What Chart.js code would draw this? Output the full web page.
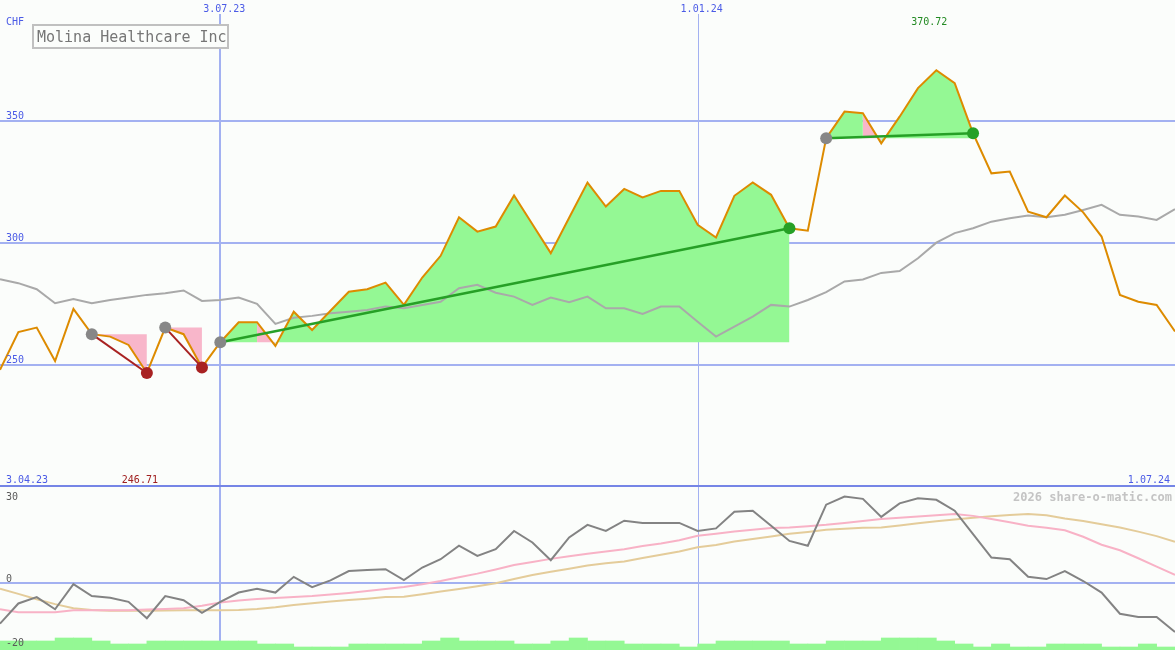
<!DOCTYPE html>
<html>
<head>
<meta charset="utf-8">
<script src="https://cdn.jsdelivr.net/npm/chart.js@4.4.0/dist/chart.umd.min.js"></script>
<style>
  html, body { margin: 0; padding: 0; background: #fbfdfb; }
  #wrap { position: relative; width: 1175px; height: 650px; }
  #priceChart { position: absolute; left: 0; top: 0; }
  #oscChart { position: absolute; left: 0; top: 487px; }
</style>
</head>
<body>
<div id="wrap">
  <canvas id="priceChart" width="1175" height="487"></canvas>
  <canvas id="oscChart" width="1175" height="163"></canvas>
</div>
<script>
/* ======================================================
    DATA (weekly, x = week index 0..64)
====================================================== */
const title = 'Molina Healthcare Inc';
const currency = 'CHF';

const price = [248.0, 263.5, 265.3, 251.6, 273.0, 262.6, 261.6, 258.2, 246.71, 265.3,
    262.6, 249.0, 259.3, 267.5, 267.5, 257.8, 271.8, 264.3, 272.2, 280.0,
    281.0, 283.7, 274.6, 285.8, 294.7, 310.5, 304.6, 306.7, 319.4, 307.6,
    295.8, 310.3, 324.7, 314.9, 322.1, 318.6, 321.3, 321.3, 307.4, 302.2,
    319.3, 324.8, 319.7, 306.0, 305.0, 342.9, 353.8, 353.1, 340.8, 351.7,
    363.4, 370.72, 365.4, 344.9, 328.5, 329.2, 312.8, 310.5, 319.4, 312.5,
    302.6, 278.7, 275.9, 274.6, 263.7];

const avgLine = [285.1, 283.5, 281.0, 275.3, 277.0, 275.3, 276.6, 277.6, 278.7, 279.4,
    280.5, 276.2, 276.6, 277.6, 275.0, 266.8, 269.3, 270.1, 271.2, 271.8,
    272.5, 273.9, 273.2, 274.6, 275.9, 281.4, 282.8, 279.6, 278.0, 274.6,
    277.6, 275.7, 278.0, 273.2, 273.2, 270.9, 273.9, 273.9, 267.7, 261.6,
    265.7, 269.8, 274.6, 273.9, 276.6, 279.8, 284.2, 285.0, 287.7, 288.5,
    293.7, 300.1, 304.0, 306.0, 308.7, 310.1, 311.2, 310.5, 311.5, 313.5,
    315.6, 311.5, 310.8, 309.4, 313.8];

const osc = [-12.6, -6.3, -4.3, -8.1, -0.3, -4.0, -4.5, -5.8, -10.9, -4.0,
    -5.3, -9.2, -5.8, -2.9, -1.7, -2.9, 2.0, -1.2, 0.9, 3.8,
    4.1, 4.4, 1.0, 4.9, 7.5, 11.7, 8.5, 10.6, 16.3, 12.7,
    7.2, 14.3, 18.2, 16.3, 19.5, 18.8, 18.8, 18.8, 16.3, 17.1,
    22.3, 22.6, 17.9, 13.2, 11.7, 24.5, 27.0, 26.3, 20.7, 24.9,
    26.5, 26.0, 22.6, 15.3, 8.0, 7.5, 2.0, 1.3, 3.8, 0.7,
    -2.9, -9.5, -10.5, -10.5, -15.2];

const oscFast = [-8.1, -9.0, -9.0, -9.0, -8.4, -8.4, -8.4, -8.4, -8.2, -8.0,
    -7.8, -7.0, -6.0, -5.4, -4.9, -4.6, -4.3, -4.0, -3.5, -3.0,
    -2.4, -1.8, -1.2, -0.3, 0.7, 1.9, 3.0, 4.3, 5.7, 6.6,
    7.6, 8.4, 9.2, 9.9, 10.6, 11.6, 12.4, 13.4, 14.8, 15.4,
    16.1, 16.7, 17.2, 17.4, 17.8, 18.2, 18.8, 19.4, 20.0, 20.4,
    20.8, 21.2, 21.6, 21.0, 20.0, 19.0, 17.9, 17.3, 16.5, 14.5,
    12.0, 10.3, 7.8, 5.2, 2.6];

const oscSlow = [-1.7, -3.3, -5.0, -6.5, -7.8, -8.3, -8.6, -8.6, -8.6, -8.5,
    -8.4, -8.4, -8.4, -8.3, -8.0, -7.5, -6.8, -6.2, -5.7, -5.2,
    -4.8, -4.3, -4.2, -3.4, -2.6, -1.8, -0.9, 0.0, 1.3, 2.6,
    3.6, 4.5, 5.5, 6.2, 6.8, 7.9, 8.9, 9.9, 11.2, 11.9,
    13.0, 13.8, 14.6, 15.4, 16.0, 16.7, 17.0, 17.3, 17.4, 18.0,
    18.7, 19.3, 19.9, 20.4, 20.9, 21.3, 21.6, 21.2, 20.2, 19.4,
    18.4, 17.4, 16.1, 14.7, 12.9];

// one bar per week, drawn between week k and k+1
const volume = [3, 3, 3, 4, 4, 3, 2, 2, 3, 3,
    3, 3, 3, 3, 2, 2, 1, 1, 1, 2,
    2, 2, 2, 3, 4, 3, 3, 3, 2, 2,
    3, 4, 3, 3, 2, 2, 2, 1, 2, 3,
    3, 3, 3, 2, 2, 3, 3, 3, 4, 4,
    4, 3, 2, 1, 2, 1, 1, 2, 2, 2,
    1, 1, 2, 1];

const priceTicks = [250, 300, 350];
const oscTicks = [30, 0, -20];
const dateIdx = [12, 38];
const dateLabels = ['3.07.23', '1.01.24'];
const startLabel = '3.04.23';
const endLabel = '1.07.24';

// buy / sell signals (week index)
const tradeOpen = [5, 9, 12, 45];
const tradeClose = [8, 11, 43, 53];

/* ======================================================
    COLOURS
====================================================== */
const BG = '#fbfdfb';
const GRID = '#a3b1f1';
const SEP = '#7585e6';
const LABEL_BLUE = '#4b5be6';
const ORANGE = '#dd8b00';
const AVG_GREY = '#a9a9a9';
const GAIN = '#94f894';
const LOSS = '#f8b6ca';
const WIN_LINE = '#26a026';
const LOSE_LINE = '#a82222';
const MARK_GREY = '#878787';
const MONO = 'DejaVu Sans Mono';

const pts = (arr, from = 0, to = arr.length - 1) =>
    arr.slice(from, to + 1).map((v, k) => ({ x: from + k, y: v }));

/* ======================================================
    PRICE PANEL
====================================================== */
const tradeSets = [];
const fillSets = [];
tradeOpen.forEach((s, t) => {
    const e = tradeClose[t];
    const entry = price[s];
    const win = price[e] > entry;
    const col = win ? WIN_LINE : LOSE_LINE;
    tradeSets.push({
        data: [{ x: s, y: entry }, { x: e, y: price[e] }],
        borderColor: col,
        borderWidth: win ? 2.5 : 2,
        pointRadius: 6,
        pointHoverRadius: 6,
        pointBorderWidth: 0,
        pointBackgroundColor: [MARK_GREY, col],
        fill: false,
        order: 0
    });
    fillSets.push({
        data: pts(price, s, e),
        borderWidth: 0,
        borderColor: 'transparent',
        pointRadius: 0,
        backgroundColor: GAIN,
        fill: { value: entry },
        segment: { backgroundColor: c => (c.p1.parsed.y < entry ? LOSS : GAIN) },
        order: 3
    });
});

const priceDecor = {
    id: 'priceDecor',
    beforeDatasetsDraw(chart) {
        const { ctx, chartArea: a, scales: { x, y } } = chart;
        ctx.save();
        ctx.strokeStyle = GRID;
        ctx.lineWidth = 2;
        priceTicks.forEach(v => {
            const py = Math.round(y.getPixelForValue(v));
            ctx.beginPath(); ctx.moveTo(a.left, py); ctx.lineTo(a.right, py); ctx.stroke();
        });
        dateIdx.forEach((d, k) => {
            const px = Math.round(x.getPixelForValue(d));
            ctx.lineWidth = k === 0 ? 2 : 1;
            ctx.beginPath(); ctx.moveTo(px + (k === 0 ? 0 : 0.5), 14); ctx.lineTo(px + (k === 0 ? 0 : 0.5), a.bottom); ctx.stroke();
        });
        ctx.restore();
    },
    afterDraw(chart) {
        const { ctx, chartArea: a, scales: { x, y } } = chart;
        ctx.save();
        // panel separator
        ctx.fillStyle = SEP;
        ctx.fillRect(0, a.bottom - 2, a.right, 2);

        ctx.font = '10px "' + MONO + '"';
        ctx.textBaseline = 'alphabetic';
        ctx.fillStyle = LABEL_BLUE;
        ctx.textAlign = 'left';
        ctx.fillText(currency, 6, 25);
        priceTicks.forEach(v => ctx.fillText(String(v), 6, Math.round(y.getPixelForValue(v)) - 2));
        ctx.fillText(startLabel, 6, 483);
        ctx.textAlign = 'right';
        ctx.fillText(endLabel, 1170, 483);
        ctx.textAlign = 'center';
        dateIdx.forEach((d, k) => ctx.fillText(dateLabels[k], x.getPixelForValue(d) + 4, 12));

        // high / low
        const hi = price.indexOf(Math.max(...price));
        const lo = price.indexOf(Math.min(...price));
        ctx.fillStyle = '#238a23';
        ctx.fillText(price[hi].toFixed(2), x.getPixelForValue(hi) - 7, 25);
        ctx.fillStyle = '#a02020';
        ctx.fillText(price[lo].toFixed(2), x.getPixelForValue(lo) - 7, 483);

        // title box
        ctx.fillStyle = BG;
        ctx.fillRect(33, 25, 195, 23);
        ctx.strokeStyle = '#c0c0c0';
        ctx.lineWidth = 2;
        ctx.strokeRect(33, 25, 195, 23);
        ctx.fillStyle = '#767676';
        ctx.textAlign = 'left';
        ctx.font = '15px "' + MONO + '"';
        ctx.fillText(title, 37, 42);
        ctx.restore();
    }
};

new Chart(document.getElementById('priceChart'), {
    type: 'line',
    data: {
        datasets: [
            ...tradeSets,
            { data: pts(price), borderColor: ORANGE, borderWidth: 2, pointRadius: 0, fill: false, order: 1 },
            { data: pts(avgLine), borderColor: AVG_GREY, borderWidth: 2, pointRadius: 0, fill: false, order: 2 },
            ...fillSets
        ]
    },
    options: {
        responsive: false,
        animation: false,
        devicePixelRatio: 1,
        layout: { padding: 0, autoPadding: false },
        elements: { line: { tension: 0 } },
        scales: {
            x: { type: 'linear', min: 0, max: 64, display: false },
            y: { type: 'linear', min: 200, max: 399.5, display: false }
        },
        plugins: { legend: { display: false }, tooltip: { enabled: false } }
    },
    plugins: [priceDecor]
});

/* ======================================================
    OSCILLATOR PANEL
====================================================== */
const oscDecor = {
    id: 'oscDecor',
    beforeDatasetsDraw(chart) {
        const { ctx, chartArea: a, scales: { x, y } } = chart;
        ctx.save();
        ctx.strokeStyle = GRID;
        ctx.lineWidth = 2;
        const py = Math.round(y.getPixelForValue(0));
        ctx.beginPath(); ctx.moveTo(a.left, py); ctx.lineTo(a.right, py); ctx.stroke();
        dateIdx.forEach((d, k) => {
            const px = Math.round(x.getPixelForValue(d));
            ctx.lineWidth = k === 0 ? 2 : 1;
            ctx.beginPath(); ctx.moveTo(px + (k === 0 ? 0 : 0.5), 0); ctx.lineTo(px + (k === 0 ? 0 : 0.5), a.bottom); ctx.stroke();
        });
        ctx.restore();
    },
    afterDraw(chart) {
        const { ctx, scales: { y } } = chart;
        ctx.save();
        ctx.font = '10px "' + MONO + '"';
        ctx.fillStyle = '#5a5a5a';
        ctx.textAlign = 'left';
        oscTicks.forEach(v => {
            const py = y.getPixelForValue(v);
            ctx.fillText(String(v), 6, v === oscTicks[0] ? py + 13 : py - 1.5);
        });
        ctx.font = 'bold 12px "' + MONO + '"';
        ctx.fillStyle = '#c4c4c4';
        ctx.textAlign = 'right';
        ctx.fillText('2026 share-o-matic.com', 1172, 14);
        ctx.restore();
    }
};

new Chart(document.getElementById('oscChart'), {
    type: 'line',
    data: {
        datasets: [
            { data: pts(osc), borderColor: '#838383', borderWidth: 2, pointRadius: 0, fill: false, order: 0 },
            { data: pts(oscFast), borderColor: '#f8b2c6', borderWidth: 2, pointRadius: 0, fill: false, order: 1 },
            { data: pts(oscSlow), borderColor: '#e4cc9a', borderWidth: 2, pointRadius: 0, fill: false, order: 2 },
            {
                type: 'bar',
                data: volume.map((v, k) => ({ x: k + 0.5, y: v })),
                yAxisID: 'yv',
                backgroundColor: GAIN,
                borderWidth: 0,
                barPercentage: 1,
                categoryPercentage: 1,
                order: 3
            }
        ]
    },
    options: {
        responsive: false,
        animation: false,
        devicePixelRatio: 1,
        layout: { padding: 0, autoPadding: false },
        elements: { line: { tension: 0 } },
        scales: {
            x: { type: 'linear', min: 0, max: 64, offset: false, display: false },
            y: { type: 'linear', min: -20.8, max: 30, display: false },
            yv: { type: 'linear', min: 0, max: 54.3, display: false }
        },
        plugins: { legend: { display: false }, tooltip: { enabled: false } }
    },
    plugins: [oscDecor]
});
</script>
</body>
</html>
